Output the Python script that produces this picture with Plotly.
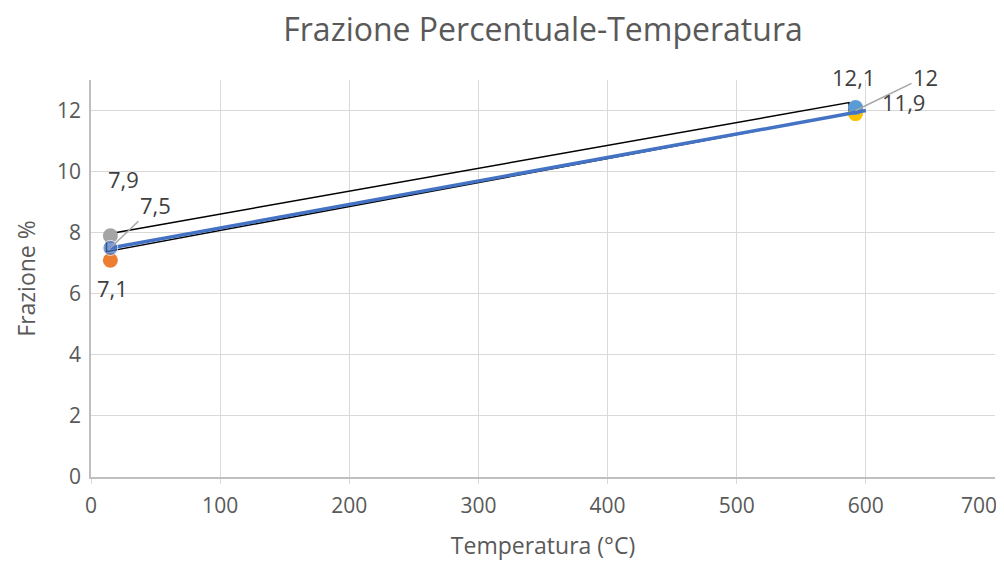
import plotly.graph_objects as go

# dati (x = temperatura °C, y = frazione %)
temp_sx = [15]
temp_dx = [592]

media_x = [15, 600]
media_y = [7.5, 12]

min_y = [7.1]
max_y = [7.9]
dx_basso_y = [11.9]
dx_alto_y = [12.1]

fascia_x = [12, 587, 587, 12, 12]
fascia_y = [7.95, 12.26, 11.9, 7.38, 7.95]

x_ticks = [0, 100, 200, 300, 400, 500, 600]
y_ticks = [0, 2, 4, 6, 8, 10, 12]

FONT = "Open Sans"
TXT = "#404040"
GRIGIO = "#595959"

fig = go.Figure()

fig.add_trace(go.Scatter(
    x=fascia_x, y=fascia_y, mode="lines",
    line=dict(color="black", width=1.5), showlegend=False, hoverinfo="skip",
))
fig.add_trace(go.Scatter(
    x=temp_sx, y=min_y, mode="markers",
    marker=dict(color="#ED7D31", size=15), showlegend=False,
))
fig.add_trace(go.Scatter(
    x=temp_sx, y=max_y, mode="markers",
    marker=dict(color="#A5A5A5", size=15), showlegend=False,
))
fig.add_trace(go.Scatter(
    x=temp_dx, y=dx_basso_y, mode="markers",
    marker=dict(color="#FFC000", size=15), showlegend=False,
))
fig.add_trace(go.Scatter(
    x=temp_dx, y=dx_alto_y, mode="markers",
    marker=dict(color="#5B9BD5", size=15), showlegend=False,
))
fig.add_trace(go.Scatter(
    x=media_x, y=media_y, mode="lines+markers",
    line=dict(color="#4472C4", width=3.5),
    marker=dict(color="#4472C4", size=[15, 0]), showlegend=False,
))

def etichetta(x, y, testo, dx=0, dy=0, ax=None, ay=None):
    if ax is None:
        fig.add_annotation(x=x, y=y, text=testo, showarrow=False,
                           xshift=dx, yshift=dy,
                           font=dict(family=FONT, size=22, color=TXT))
    else:
        fig.add_annotation(x=x, y=y, text=testo, showarrow=True, arrowhead=0,
                           arrowcolor="#A6A6A6", arrowwidth=1.5, standoff=0,
                           ax=ax, ay=ay,
                           font=dict(family=FONT, size=22, color=TXT))

etichetta(temp_sx[0], max_y[0], "7,9", dx=13, dy=57)
etichetta(media_x[0], media_y[0], "7,5", ax=45, ay=-43)
etichetta(temp_sx[0], min_y[0], "7,1", dx=2, dy=-28)
etichetta(temp_dx[0], dx_alto_y[0], "12,1", dx=-2, dy=30)
etichetta(temp_dx[0], 12, "12", ax=70, ay=-34)
etichetta(temp_dx[0], dx_basso_y[0], "11,9", dx=48, dy=12)

# ultima etichetta dell'asse x (in Excel viene spostata dentro il bordo)
fig.add_annotation(x=700, y=0, xref="x", yref="paper", text="700",
                   showarrow=False, xanchor="right", yanchor="top",
                   xshift=4, yshift=-12,
                   font=dict(family=FONT, size=21, color=GRIGIO))

# la pagina ha 8px di margine: figura 996x553 per stare nella finestra
fig.update_layout(
    width=996, height=553,
    margin=dict(l=83, r=9, t=72, b=84),
    plot_bgcolor="white", paper_bgcolor="white",
    font=dict(family=FONT, color=GRIGIO),
    title=dict(text="Frazione Percentuale-Temperatura", x=0.5, xanchor="center",
               xref="paper", y=0.96, yanchor="middle", automargin=False,
               font=dict(family=FONT, size=32, color=GRIGIO)),
    separators=",.",
)
fig.update_xaxes(
    range=[0, 700], tickvals=x_ticks, showgrid=True, gridcolor="#D9D9D9", gridwidth=1.3,
    showline=True, linecolor="#BFBFBF", linewidth=1.5, zeroline=False,
    ticks="outside", ticklen=5, tickcolor="#D9D9D9", automargin=False,
    ticklabelstandoff=4,
    tickfont=dict(family=FONT, size=21, color=GRIGIO),
    title=dict(text="Temperatura (°C)", standoff=28,
               font=dict(family=FONT, size=23, color=GRIGIO)),
)
fig.update_yaxes(
    range=[0, 13], tickvals=y_ticks, showgrid=True,
    gridcolor="#D9D9D9", gridwidth=1.3, automargin=False,
    showline=True, linecolor="#BFBFBF", linewidth=1.5, zeroline=False,
    tickfont=dict(family=FONT, size=21, color=GRIGIO), ticklabelstandoff=4,
    title=dict(text="Frazione %", standoff=15,
               font=dict(family=FONT, size=23, color=GRIGIO)),
)

fig.write_html("out.html")
